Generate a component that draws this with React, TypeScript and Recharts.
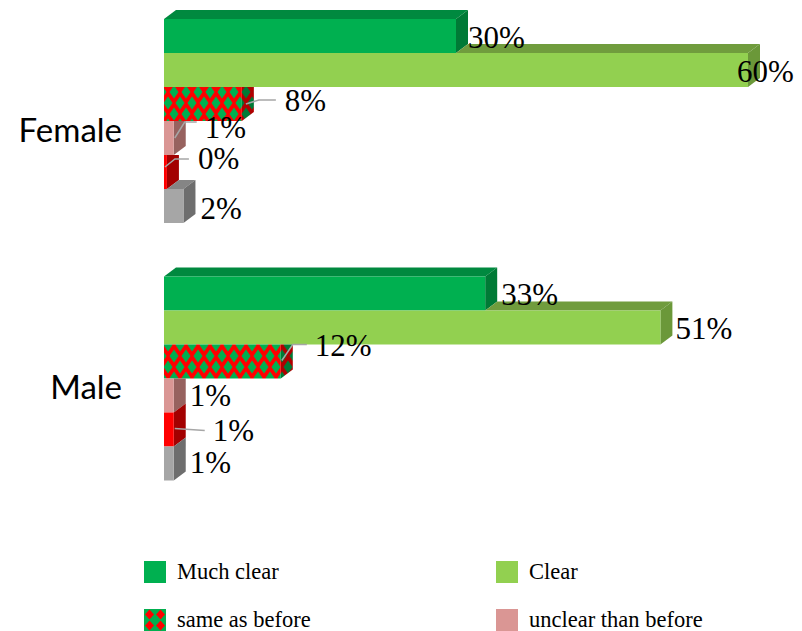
import React from 'react';
import { BarChart, Bar, XAxis, YAxis, LabelList } from 'recharts';

// ---------- data ----------
const categories = ['Female', 'Male'];
const muchClear = [30, 33];
const clear = [60, 51];
const sameAsBefore = [8, 12];
const unclearThanBefore = [1, 1];
const muchUnclear = [0.3, 1];
const noAnswer = [2, 1];
const legendLabels = ['Much clear', 'Clear', 'same as before', 'unclear than before'];

const seriesKeys = ['muchClear', 'clear', 'sameAsBefore', 'unclearThanBefore', 'muchUnclear', 'noAnswer'];
const seriesValues = [muchClear, clear, sameAsBefore, unclearThanBefore, muchUnclear, noAnswer];

const data = categories.map((name, i) => {
  const row: any = { name };
  seriesKeys.forEach((k, s) => {
    row[k] = seriesValues[s][i];
  });
  return row;
});

// ---------- styles ----------
const DX = 12;
const DY = 9;
const seriesStyle = [
  { front: '#00B050', top: '#00893F', side: '#007A36' },
  { front: '#92D050', top: '#709C3D', side: '#6B9839' },
  { front: 'url(#diamondFront)', top: 'url(#diamondDark)', side: 'url(#diamondDark)' },
  { front: '#DA9694', top: '#A87370', side: '#97625F' },
  { front: '#FF0000', top: '#B80000', side: '#A30000' },
  { front: '#A6A6A6', top: '#858585', side: '#6E6E6E' },
];

// label nudges relative to (bar end, bar centre); leader polyline points likewise
const labelPlacement: any[][] = [
  [{ dx: 12, dy: 1 }, { dx: 16, dy: 1 }],
  [{ dx: -11, dy: 1 }, { dx: 15, dy: 1 }],
  [
    { dx: 43, dy: -4, leader: [[4, 0], [17, -4], [34, -4]] },
    { dx: 34, dy: -16, leader: [[1, -1], [12, -17], [26, -17]] },
  ],
  [{ dx: 31, dy: -11, leader: [[1, 0], [11, -16], [23, -16]] }, { dx: 16, dy: 0 }],
  [
    { dx: 31, dy: -14, leader: [[-2, -5], [8, -13], [22, -13]] },
    { dx: 39, dy: 1, leader: [[1, -1], [31, 1]] },
  ],
  [{ dx: 17, dy: 2 }, { dx: 16, dy: -1 }],
];

const makeShape = (s: number) => (props: any) => {
  const { x, y, width, height, payload } = props;
  const val = payload[seriesKeys[s]];
  const x0 = x;
  const x1 = x + width;
  const y0 = y;
  const y1 = y + height;
  const unit = val > 0 ? width / val : 0;
  const prevEnd = s > 0 ? x0 + payload[seriesKeys[s - 1]] * unit : x0;
  const st = seriesStyle[s];
  const topStart = Math.max(prevEnd, x0);
  const faces: any[] = [];
  if (s === 0 || topStart < x1) {
    faces.push(
      <polygon
        key="top"
        points={`${topStart},${y0} ${x1},${y0} ${x1 + DX},${y0 - DY} ${topStart + DX},${y0 - DY}`}
        fill={st.top}
      />
    );
  }
  const sidePts =
    s > 0 && prevEnd > x1
      ? `${x1},${y0} ${x1 + DX},${y0} ${x1 + DX},${y1 - DY} ${x1},${y1}`
      : `${x1},${y0} ${x1 + DX},${y0 - DY} ${x1 + DX},${y1 - DY} ${x1},${y1}`;
  faces.push(<polygon key="side" points={sidePts} fill={st.side} />);
  faces.push(<rect key="front" x={x0} y={y0} width={Math.max(width, 0)} height={height} fill={st.front} />);
  return <g>{faces}</g>;
};

const makeLabel = (s: number) => (props: any) => {
  const vb = props.viewBox || {};
  const x = vb.x ?? props.x;
  const y = vb.y ?? props.y;
  const width = vb.width ?? props.width;
  const height = vb.height ?? props.height;
  const idx = props.index ?? 0;
  const val = props.value;
  const p = labelPlacement[s][idx] || { dx: 16, dy: 0 };
  const ex = x + width;
  const cy = y + height / 2;
  return (
    <g>
      {p.leader ? (
        <polyline
          points={p.leader.map((pt: number[]) => `${ex + pt[0]},${cy + pt[1]}`).join(' ')}
          fill="none"
          stroke="#A6A6A6"
          strokeWidth={1.5}
        />
      ) : null}
      <text
        x={ex + p.dx}
        y={cy + p.dy}
        textAnchor="start"
        dominantBaseline="central"
        fontFamily="'Liberation Serif', serif"
        fontSize={31}
        fill="#000"
      >
        {`${Math.round(val)}%`}
      </text>
    </g>
  );
};

const CatTick = (props: any) => {
  const { y, payload } = props;
  return (
    <text
      x={122}
      y={y + 7}
      textAnchor="end"
      dominantBaseline="central"
      fontFamily="Lato, sans-serif"
      fontSize={33}
      fill="#000"
    >
      {payload.value}
    </text>
  );
};

const legendSwatchFill = ['#00B050', '#92D050', 'url(#legendDiamond)', '#DA9694'];
const legendPos = [
  { left: 144, top: 561 },
  { left: 496, top: 561 },
  { left: 144, top: 609 },
  { left: 496, top: 609 },
];

export default function App() {
  return (
    <div style={{ position: 'absolute', left: 0, top: 0, width: 802, height: 631, overflow: 'hidden', background: '#fff' }}>
      <svg width={0} height={0} style={{ position: 'absolute' }}>
        <defs>
          <pattern id="diamondFront" patternUnits="userSpaceOnUse" width={12} height={22}>
            <rect width={12} height={22} fill="#FF0000" />
            <polygon points="6,4.5 10.5,11 6,17.5 1.5,11" fill="#00B050" />
            <polygon points="0,-6.5 4.5,0 0,6.5 -4.5,0" fill="#00B050" />
            <polygon points="12,-6.5 16.5,0 12,6.5 7.5,0" fill="#00B050" />
            <polygon points="0,15.5 4.5,22 0,28.5 -4.5,22" fill="#00B050" />
            <polygon points="12,15.5 16.5,22 12,28.5 7.5,22" fill="#00B050" />
          </pattern>
          <pattern id="diamondDark" patternUnits="userSpaceOnUse" width={12} height={22}>
            <rect width={12} height={22} fill="#B00000" />
            <polygon points="6,4.5 10.5,11 6,17.5 1.5,11" fill="#007A36" />
            <polygon points="0,-6.5 4.5,0 0,6.5 -4.5,0" fill="#007A36" />
            <polygon points="12,-6.5 16.5,0 12,6.5 7.5,0" fill="#007A36" />
            <polygon points="0,15.5 4.5,22 0,28.5 -4.5,22" fill="#007A36" />
            <polygon points="12,15.5 16.5,22 12,28.5 7.5,22" fill="#007A36" />
          </pattern>
          <pattern id="legendDiamond" patternUnits="userSpaceOnUse" width={11} height={11}>
            <rect width={11} height={11} fill="#00B050" />
            <polygon points="5.5,0.5 10,5.5 5.5,10.5 1,5.5" fill="#FF0000" />
          </pattern>
        </defs>
      </svg>
      <div style={{ position: 'absolute', left: 0, top: -7 }}>
        <BarChart
          width={802}
          height={540}
          layout="vertical"
          data={data}
          margin={{ top: 0, right: 54, bottom: 25, left: 0 }}
          barCategoryGap={26}
          barGap={0}
        >
          <XAxis type="number" domain={[0, 60]} hide />
          <YAxis
            type="category"
            dataKey="name"
            width={164}
            axisLine={false}
            tickLine={false}
            tick={<CatTick />}
          />
          {seriesKeys.map((k, s) => (
            <Bar key={k} dataKey={k} isAnimationActive={false} shape={makeShape(s)}>
              <LabelList dataKey={k} content={makeLabel(s)} />
            </Bar>
          ))}
        </BarChart>
      </div>
      {legendLabels.map((lab, i) => (
        <div key={lab} style={{ position: 'absolute', left: legendPos[i].left, top: legendPos[i].top, height: 22, whiteSpace: 'nowrap' }}>
          <svg width={22} height={22} style={{ position: 'absolute', left: 0, top: 0 }}>
            <rect width={22} height={22} fill={legendSwatchFill[i]} />
          </svg>
          <span
            style={{
              position: 'absolute',
              left: 33,
              top: 0,
              fontFamily: "'Liberation Serif', serif",
              fontSize: 22.5,
              lineHeight: '22px',
              color: '#000',
            }}
          >
            {lab}
          </span>
        </div>
      ))}
    </div>
  );
}
